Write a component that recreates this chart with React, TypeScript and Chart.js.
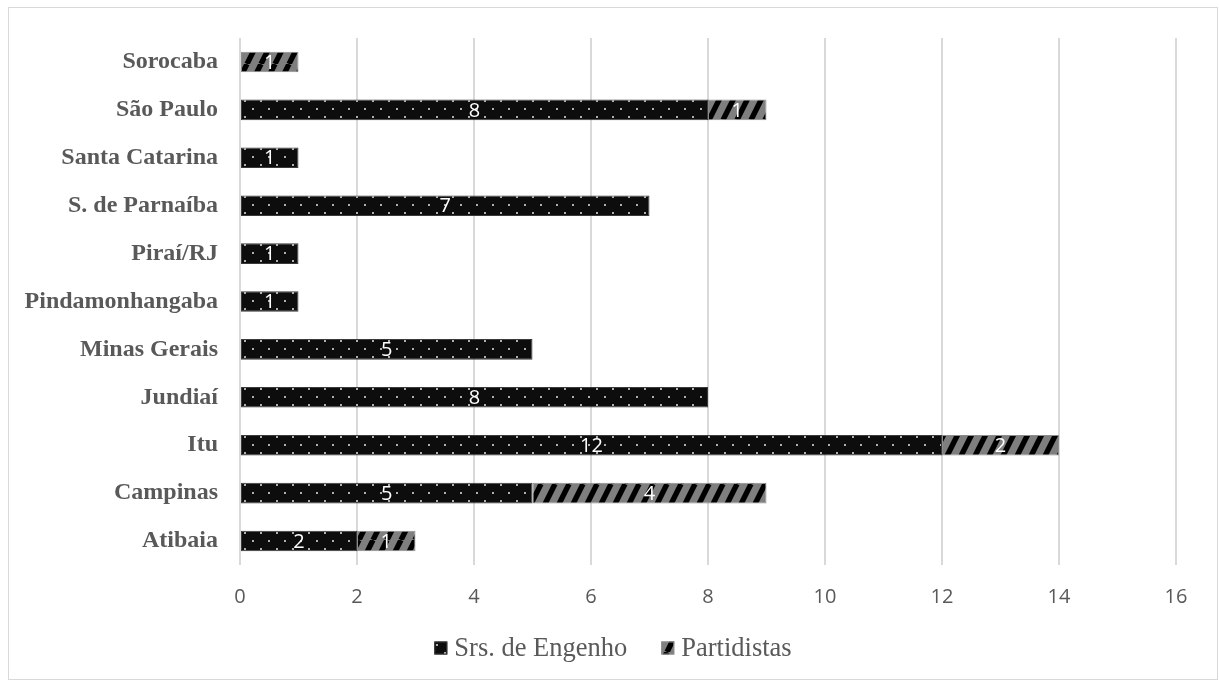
import React, { useEffect, useRef } from "react";
import { Chart, registerables } from "chart.js";

Chart.register(...registerables);

// Origin of the group, listed top to bottom
const categories = [
  "Sorocaba",
  "São Paulo",
  "Santa Catarina",
  "S. de Parnaíba",
  "Piraí/RJ",
  "Pindamonhangaba",
  "Minas Gerais",
  "Jundiaí",
  "Itu",
  "Campinas",
  "Atibaia",
];

const senhoresEngenho: (number | null)[] = [null, 8, 1, 7, 1, 1, 5, 8, 12, 5, 2];
const partidistas: (number | null)[] = [1, 1, null, null, null, null, null, null, 2, 4, 1];

const xTicks = [0, 2, 4, 6, 8, 10, 12, 14, 16];

// Black fill with a sparse grid of light dots
function makeDotPattern(): CanvasPattern {
  const c = document.createElement("canvas");
  c.width = 16;
  c.height = 16;
  const g = c.getContext("2d")!;
  g.fillStyle = "#0d0d0d";
  g.fillRect(0, 0, 16, 16);
  g.fillStyle = "#b0b0b0";
  g.fillRect(3, 4, 2, 2);
  g.fillRect(11, 12, 2, 2);
  return g.createPattern(c, "repeat")!;
}

// Grey fill with steep black upward diagonal stripes
function makeStripePattern(): CanvasPattern {
  const w = 14;
  const h = 28;
  const c = document.createElement("canvas");
  c.width = w;
  c.height = h;
  const g = c.getContext("2d")!;
  g.fillStyle = "#7f7f7f";
  g.fillRect(0, 0, w, h);
  g.strokeStyle = "#000000";
  g.lineWidth = 5.4;
  for (const off of [-w, 0, w]) {
    g.beginPath();
    g.moveTo(off, h);
    g.lineTo(off + w, 0);
    g.stroke();
  }
  return g.createPattern(c, "repeat")!;
}

// Writes each segment's value in white at the middle of the segment
const segmentLabels = {
  id: "segmentLabels",
  afterDatasetsDraw(chart: any) {
    const ctx = chart.ctx;
    ctx.save();
    ctx.font = '20px "Open Sans"';
    ctx.fillStyle = "#ffffff";
    ctx.textAlign = "center";
    ctx.textBaseline = "middle";
    chart.data.datasets.forEach((ds: any, di: number) => {
      const meta = chart.getDatasetMeta(di);
      meta.data.forEach((el: any, i: number) => {
        const v = ds.data[i];
        if (v == null || v === 0) return;
        const { x, y, base } = el.getProps(["x", "y", "base"], true);
        ctx.fillText(String(v), (x + base) / 2, y + 1);
      });
    });
    ctx.restore();
  },
};

// Legend row under the axis: swatch, short gap, series name
const bottomLegend = {
  id: "bottomLegend",
  afterDraw(chart: any) {
    const ctx = chart.ctx;
    const datasets = chart.data.datasets;
    const box = 13;
    const gap = 7;
    const itemGap = 34;
    ctx.save();
    ctx.font = '26.5px "Liberation Serif"';
    ctx.textBaseline = "middle";
    ctx.textAlign = "left";
    const widths = datasets.map((d: any) => box + gap + ctx.measureText(d.label).width);
    const total = widths.reduce((a: number, b: number) => a + b, 0) + itemGap * (datasets.length - 1);
    let x = (chart.width - total) / 2;
    const cy = 640;
    datasets.forEach((d: any, i: number) => {
      ctx.fillStyle = d.backgroundColor;
      ctx.fillRect(x, cy - box / 2, box, box);
      ctx.strokeStyle = d.borderColor;
      ctx.lineWidth = 1;
      ctx.strokeRect(x + 0.5, cy - box / 2 + 0.5, box - 1, box - 1);
      ctx.fillStyle = "#595959";
      ctx.fillText(d.label, x + box + gap, cy + 1);
      x += widths[i] + itemGap;
    });
    ctx.restore();
  },
};

export default function App() {
  const ref = useRef<HTMLCanvasElement>(null);

  useEffect(() => {
    if (!ref.current) return;
    const chart = new Chart(ref.current, {
      type: "bar",
      data: {
        labels: categories,
        datasets: [
          {
            label: "Srs. de Engenho",
            data: senhoresEngenho,
            backgroundColor: makeDotPattern(),
            borderColor: "#3a3a3a",
            borderWidth: 1,
            borderSkipped: false,
            barPercentage: 0.43,
            categoryPercentage: 1,
          },
          {
            label: "Partidistas",
            data: partidistas,
            backgroundColor: makeStripePattern(),
            borderColor: "#8c8c8c",
            borderWidth: 1,
            borderSkipped: false,
            barPercentage: 0.43,
            categoryPercentage: 1,
          },
        ],
      },
      options: {
        indexAxis: "y",
        responsive: false,
        animation: false,
        layout: { padding: { top: 30, right: 41, left: 0, bottom: 64 } },
        scales: {
          x: {
            stacked: true,
            min: 0,
            max: 16,
            afterBuildTicks(scale: any) {
              scale.ticks = xTicks.map((v) => ({ value: v }));
            },
            grid: { color: "#d9d9d9", lineWidth: 2, drawTicks: false },
            border: { display: false },
            ticks: {
              padding: 20,
              color: "#595959",
              font: { family: '"Open Sans"', size: 20 },
            },
            afterFit(scale: any) {
              scale.height = 50;
              scale.paddingLeft = 0;
              scale.paddingRight = 0;
            },
          },
          y: {
            stacked: true,
            grid: { display: false, drawTicks: false },
            border: { display: false },
            ticks: {
              padding: 22,
              color: "#595959",
              font: { family: '"Liberation Serif"', size: 24, weight: "bold" },
            },
            afterFit(scale: any) {
              scale.width = 231;
              scale.paddingTop = 0;
              scale.paddingBottom = 0;
            },
          },
        },
        plugins: {
          legend: { display: false },
          tooltip: { enabled: false },
        },
      },
      plugins: [segmentLabels, bottomLegend],
    });
    return () => chart.destroy();
  }, []);

  return (
    <div
      style={{
        position: "absolute",
        left: 8,
        top: 7,
        width: 1210,
        height: 673,
        border: "1px solid #d9d9d9",
        boxSizing: "border-box",
        background: "#ffffff",
      }}
    >
      <canvas ref={ref} width={1208} height={671} style={{ display: "block" }} />
    </div>
  );
}
